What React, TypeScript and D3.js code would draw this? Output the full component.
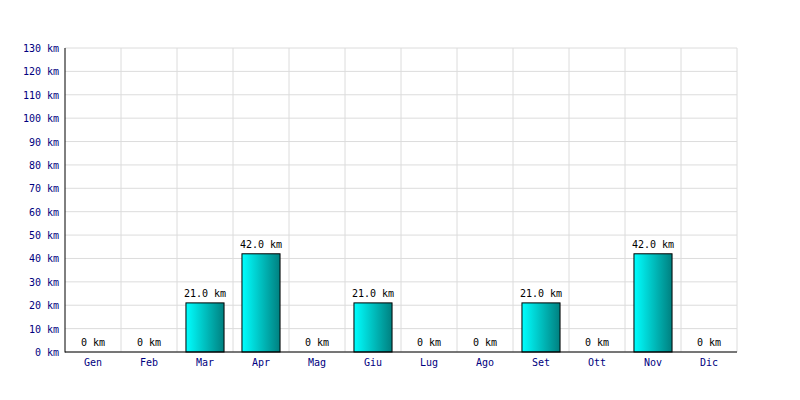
import * as d3 from "d3";

const months = ["Gen", "Feb", "Mar", "Apr", "Mag", "Giu", "Lug", "Ago", "Set", "Ott", "Nov", "Dic"];
const distances = [0, 0, 21, 42, 0, 21, 0, 0, 21, 0, 42, 0];
const yTicks = [0, 10, 20, 30, 40, 50, 60, 70, 80, 90, 100, 110, 120, 130];

const width = 800;
const height = 400;
const margin = { top: 48, right: 63, bottom: 48, left: 65 };

export default function App() {
  const x = d3
    .scaleBand()
    .domain(months)
    .range([margin.left, width - margin.right])
    .paddingInner(0.32)
    .paddingOuter(0.16);
  const band = d3
    .scaleBand()
    .domain(months)
    .range([margin.left, width - margin.right]);
  const y = d3
    .scaleLinear()
    .domain([0, 130])
    .range([height - margin.bottom, margin.top]);

  const font = "'DejaVu Sans Mono', monospace";
  const x0 = margin.left;
  const x1 = width - margin.right;
  const y0 = y(0);

  return (
    <svg
      width={width}
      height={height}
      style={{ position: "absolute", left: 0, top: 0, background: "#fff" }}
    >
      <defs>
        <linearGradient id="barGrad" x1="0" x2="1" y1="0" y2="0">
          <stop offset="0%" stopColor="#00ffff" />
          <stop offset="100%" stopColor="#008080" />
        </linearGradient>
      </defs>
      {/* grid */}
      {yTicks.map((t) => (
        <line key={"h" + t} x1={x0} x2={x1} y1={y(t)} y2={y(t)} stroke="#dcdcdc" />
      ))}
      {months.map((m) => (
        <line
          key={"v" + m}
          x1={(band(m) ?? 0) + band.bandwidth()}
          x2={(band(m) ?? 0) + band.bandwidth()}
          y1={margin.top}
          y2={y0}
          stroke="#dcdcdc"
        />
      ))}
      {/* bars */}
      {months.map((m, i) =>
        distances[i] > 0 ? (
          <rect
            key={"b" + m}
            x={x(m)}
            y={y(distances[i])}
            width={x.bandwidth()}
            height={y0 - y(distances[i])}
            fill="url(#barGrad)"
            stroke="#000"
            strokeWidth={1}
          />
        ) : null
      )}
      {/* value labels */}
      {months.map((m, i) => (
        <text
          key={"l" + m}
          x={(band(m) ?? 0) + band.bandwidth() / 2}
          y={y(distances[i]) - 6}
          textAnchor="middle"
          fontFamily={font}
          fontSize={10}
          fill="#000"
        >
          {distances[i] > 0 ? `${distances[i].toFixed(1)} km` : "0 km"}
        </text>
      ))}
      {/* axes */}
      <line x1={x0} x2={x0} y1={margin.top} y2={y0 + 0.5} stroke="#000" />
      <line x1={x0} x2={x1} y1={y0} y2={y0} stroke="#000" />
      {yTicks.map((t) => (
        <text
          key={"yt" + t}
          x={x0 - 6}
          y={y(t) + 4}
          textAnchor="end"
          fontFamily={font}
          fontSize={10}
          fill="#000080"
        >
          {t} km
        </text>
      ))}
      {months.map((m) => (
        <text
          key={"xt" + m}
          x={(band(m) ?? 0) + band.bandwidth() / 2}
          y={y0 + 14}
          textAnchor="middle"
          fontFamily={font}
          fontSize={10}
          fill="#000080"
        >
          {m}
        </text>
      ))}
    </svg>
  );
}
